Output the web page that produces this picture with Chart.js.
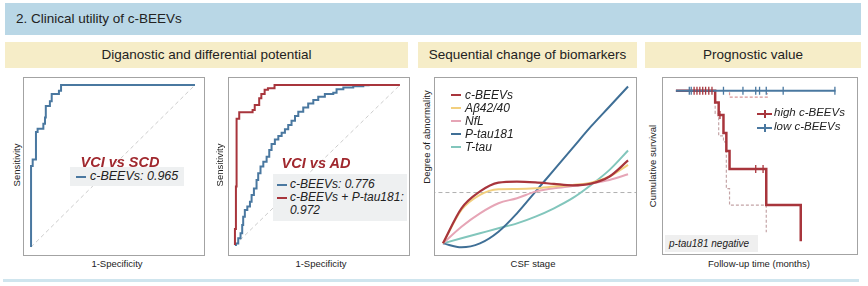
<!DOCTYPE html>
<html>
<head>
<meta charset="utf-8">
<script src="https://cdn.jsdelivr.net/npm/chart.js@4.4.1/dist/chart.umd.min.js"></script>
<style>
body { margin: 0; width: 868px; height: 286px; background: #fff; position: relative; overflow: hidden;
       font-family: Arial, "Liberation Sans", sans-serif; color: #222; }
.abs { position: absolute; }
.topbar { left: 5px; top: 3px; width: 845px; height: 32px; padding-left: 11px; line-height: 32px;
          background: #b9d7e6; font-size: 13.5px; }
.sec { top: 42px; height: 26px; line-height: 26px; background: #f6edc8; font-size: 13.5px; text-align: center; }
.box { border: 1px solid #a3a3a3; box-sizing: border-box; }
.box canvas { position: absolute; left: 0; top: 0; }
.vt { position: absolute; transform: translate(-50%, -50%) rotate(-90deg); white-space: nowrap; font-size: 9.5px; }
.ct { position: absolute; transform: translate(-50%, -50%); white-space: nowrap; font-size: 9.5px; }
.lg { position: absolute; background: #eef0f1; }
.row { position: absolute; white-space: nowrap; font-style: italic; }
.sw { position: absolute; height: 2px; }
.vs { position: absolute; transform: translate(-50%, -50%); white-space: nowrap; font-weight: bold;
      font-style: italic; font-size: 14.5px; color: #a0282e; }
</style>
</head>
<body>

<div class="abs topbar">2. Clinical utility of c-BEEVs</div>
<div class="abs sec" style="left:5px;width:403px">Diganostic and differential potential</div>
<div class="abs sec" style="left:418px;width:219px">Sequential change of biomarkers</div>
<div class="abs sec" style="left:645px;width:216px">Prognostic value</div>
<div class="abs" style="left:3px;top:279px;width:856px;height:3px;background:#cfe5ee"></div>

<!-- panel 1 -->
<div class="abs box" style="left:23px;top:77px;width:182px;height:179px"><canvas id="roc-scd" width="180" height="177"></canvas></div>
<div class="vt" style="left:16px;top:165px">Sensitivity</div>
<div class="ct" style="left:117px;top:263px">1-Specificity</div>
<div class="lg" style="left:70px;top:167px;width:114px;height:19px">
  <div class="sw" style="left:6px;top:9px;width:10px;background:#4a78a0"></div>
  <div class="row" style="left:20px;top:2px;font-size:12.5px">c-BEEVs: 0.965</div>
</div>
<div class="vs" style="left:120px;top:162px">VCI vs SCD</div>

<!-- panel 2 -->
<div class="abs box" style="left:228px;top:77px;width:182px;height:179px"><canvas id="roc-ad" width="180" height="177"></canvas></div>
<div class="vt" style="left:219px;top:165px">Sensitivity</div>
<div class="ct" style="left:321px;top:263px">1-Specificity</div>
<div class="lg" style="left:273px;top:174px;width:134px;height:47px">
  <div class="sw" style="left:4px;top:10px;width:10px;background:#4a78a0"></div>
  <div class="row" style="left:17px;top:3px;font-size:12px">c-BEEVs: 0.776</div>
  <div class="sw" style="left:4px;top:23px;width:10px;background:#a8353c"></div>
  <div class="row" style="left:17px;top:16px;font-size:12px">c-BEEVs + P-tau181:</div>
  <div class="row" style="left:17px;top:29px;font-size:12px">0.972</div>
</div>
<div class="vs" style="left:316px;top:163px">VCI vs AD</div>

<!-- panel 3 -->
<div class="abs box" style="left:434px;top:77px;width:203px;height:179px"><canvas id="csf" width="201" height="177"></canvas></div>
<div class="vt" style="left:426px;top:137px">Degree of abnormality</div>
<div class="ct" style="left:533px;top:263px">CSF stage</div>
<div id="csf-legend"></div>

<!-- panel 4 -->
<div class="abs box" style="left:662px;top:77px;width:196px;height:178px"><canvas id="km" width="194" height="176"></canvas></div>
<div class="vt" style="left:652px;top:166px">Cumulative survival</div>
<div class="ct" style="left:759px;top:263px">Follow-up time (months)</div>
<div class="abs" style="left:757px;top:113px;width:15px;height:2px;background:#a8353c"></div>
<div class="abs" style="left:764px;top:110px;width:1.5px;height:8px;background:#a8353c"></div>
<div class="row" style="left:774px;top:106px;font-size:11.5px">high c-BEEVs</div>
<div class="abs" style="left:757px;top:127px;width:15px;height:2px;background:#4a78a0"></div>
<div class="abs" style="left:764px;top:124px;width:1.5px;height:8px;background:#4a78a0"></div>
<div class="row" style="left:774px;top:120px;font-size:11.5px">low c-BEEVs</div>
<div class="lg" style="left:665px;top:235px;width:93px;height:17px;background:#efefef">
  <div class="row" style="left:4px;top:3px;font-size:10px">p-tau181 negative</div>
</div>

<script>
// ROC: VCI vs SCD
const scdFpr = [0, 0, 0.01, 0.03, 0.04, 0.06, 0.075, 0.085, 0.09, 0.115, 0.126, 0.16, 0.17, 0.183, 1.0];
const scdTpr = [0, 0.50, 0.54, 0.71, 0.73, 0.73, 0.76, 0.80, 0.87, 0.90, 0.945, 0.945, 0.965, 1.0, 1.0];

// ROC: VCI vs AD, c-BEEVs
const adFprBeev = [0, 0.006, 0.02, 0.034, 0.044, 0.05, 0.06, 0.075, 0.091, 0.101, 0.115, 0.131, 0.141, 0.155,
  0.172, 0.192, 0.208, 0.222, 0.242, 0.263, 0.283, 0.303, 0.323, 0.343, 0.364, 0.384, 0.414, 0.444, 0.475,
  0.505, 0.545, 0.596, 0.616, 0.657, 0.717, 0.778, 0.81];
const adTprBeev = [0, 0.010, 0.042, 0.073, 0.125, 0.177, 0.219, 0.24, 0.27, 0.313, 0.354, 0.406, 0.448, 0.49,
  0.52, 0.552, 0.594, 0.631, 0.66, 0.681, 0.702, 0.723, 0.75, 0.777, 0.806, 0.833, 0.86, 0.885, 0.906,
  0.927, 0.944, 0.952, 0.973, 0.985, 0.992, 0.998, 1.0];

// ROC: VCI vs AD, c-BEEVs + P-tau181
const adFprCombo = [0, 0, 0.006, 0.01, 0.026, 0.107, 0.12, 0.147, 0.16, 0.18, 0.20, 0.24, 1.0];
const adTprCombo = [0, 0.10, 0.365, 0.79, 0.83, 0.844, 0.875, 0.917, 0.944, 0.97, 0.98, 1.0, 1.0];

// Sekvence biomarkerů podle CSF stadia
const csfStage = [0, 1, 2, 3, 4, 5, 6, 7, 8, 9, 10];
const cBeevs  = [0, 2.23, 3.30, 3.86, 3.93, 3.88, 3.78, 3.69, 3.80, 4.25, 5.27];
const abeta   = [0, 2.12, 3.08, 3.44, 3.46, 3.50, 3.61, 3.71, 3.86, 4.25, 4.99];
const nfl     = [0, 1.06, 1.91, 2.55, 2.87, 3.29, 3.50, 3.65, 3.82, 4.03, 4.39];
const ptau    = [0, -0.25, 0.0, 0.74, 1.91, 3.29, 4.67, 6.05, 7.43, 8.70, 9.97];
const ttau    = [0, 0.32, 0.64, 0.96, 1.27, 1.70, 2.23, 2.87, 3.71, 4.67, 5.90];
const abnormalCutoff = 3.23;

// Kaplan-Meier
const highTime = [0, 12.3, 13.4, 14.9, 15.8, 16.8, 28.3, 39.1];
const highSurv = [1, 0.923, 0.84, 0.72, 0.60, 0.48, 0.24, 0];
const lowTime = [0, 50];
const lowSurv = [1, 1];
const highCensorTime = [5.7, 6.6, 7.5, 8.4, 9.3, 10.3, 11.3, 13.8, 25.0, 27.3];
const highCensorSurv = [1, 1, 1, 1, 1, 1, 1, 0.84, 0.48, 0.48];
const lowCensorTime = [4.2, 4.8, 14.9, 21.0, 25.0, 26.2, 28.3, 33.6, 49.8];
const ciUpperTime = [16.8, 16.8, 28.6, 28.6];
const ciUpperSurv = [0.99, 0.958, 0.958, 0.985];
const ciLowerTime = [12.3, 12.3, 13.4, 14.9, 15.8, 16.8, 28.3];
const ciLowerSurv = [1.0, 0.85, 0.70, 0.66, 0.35, 0.24, 0.06];

const RED = '#a8353c';
const BLUE = '#4a78a0';

function xy(xs, ys) {
    return xs.map((x, i) => ({ x: x, y: ys[i] }));
}

function baseOptions(xMin, xMax, yMin, yMax) {
    return {
        responsive: false,
        animation: false,
        events: [],
        layout: { padding: 0 },
        scales: {
            x: { type: 'linear', display: false, min: xMin, max: xMax },
            y: { type: 'linear', display: false, min: yMin, max: yMax }
        },
        plugins: { legend: { display: false }, tooltip: { enabled: false } },
        elements: { point: { radius: 0 }, line: { borderCapStyle: 'butt' } }
    };
}

function diagonal() {
    return { data: xy([0, 1], [0, 1]), borderColor: '#cccccc', borderWidth: 1, borderDash: [4, 3] };
}

// Panel 1
new Chart(document.getElementById('roc-scd'), {
    type: 'line',
    data: {
        datasets: [
            { data: xy(scdFpr, scdTpr), borderColor: BLUE, borderWidth: 2, stepped: 'before' },
            diagonal()
        ]
    },
    options: baseOptions(-0.043, 1.055, -0.049, 1.043)
});

// Panel 2
new Chart(document.getElementById('roc-ad'), {
    type: 'line',
    data: {
        datasets: [
            { data: xy(adFprCombo, adTprCombo), borderColor: RED, borderWidth: 2, stepped: 'before' },
            { data: xy(adFprBeev, adTprBeev), borderColor: BLUE, borderWidth: 2, stepped: 'before' },
            diagonal()
        ]
    },
    options: baseOptions(-0.036, 1.055, -0.0625, 1.044)
});

// Panel 3
const csfSeries = [
    { label: 'c-BEEVs', values: cBeevs, color: '#a8353c', width: 2.2 },
    { label: 'Aβ42/40', values: abeta, color: '#f2cf7e', width: 2 },
    { label: 'NfL', values: nfl, color: '#e6a5b6', width: 2 },
    { label: 'P-tau181', values: ptau, color: '#3f6f96', width: 2 },
    { label: 'T-tau', values: ttau, color: '#82c6bc', width: 2 }
];
const csfDatasets = csfSeries.map(s => ({
    label: s.label,
    data: xy(csfStage, s.values),
    borderColor: s.color,
    borderWidth: s.width,
    cubicInterpolationMode: 'monotone'
}));
csfDatasets.push({
    data: xy([-1, 11], [abnormalCutoff, abnormalCutoff]),
    borderColor: '#b0b0b0', borderWidth: 1, borderDash: [4, 3]
});
new Chart(document.getElementById('csf'), {
    type: 'line',
    data: { datasets: csfDatasets },
    options: baseOptions(-0.43, 10.43, -0.74, 10.51)
});

// legenda panelu 3
const legendEl = document.getElementById('csf-legend');
csfSeries.forEach((s, i) => {
    const top = 95 + i * 13.1;
    legendEl.insertAdjacentHTML('beforeend',
        '<div class="abs" style="left:451px;top:' + (top - 1) + 'px;width:10px;height:2px;background:' + s.color + '"></div>' +
        '<div class="row" style="left:465px;top:' + (top - 7.5) + 'px;font-size:12px">' + s.label + '</div>');
});

// Panel 4
new Chart(document.getElementById('km'), {
    type: 'line',
    data: {
        datasets: [
            { data: xy(lowCensorTime, lowCensorTime.map(() => 1)), showLine: false, pointStyle: 'line',
              pointRotation: 90, pointRadius: 4, pointBorderWidth: 1.3, pointBorderColor: BLUE },
            { data: xy(highCensorTime, highCensorSurv), showLine: false, pointStyle: 'line',
              pointRotation: 90, pointRadius: 4, pointBorderWidth: 1.3, pointBorderColor: RED },
            { data: xy(lowTime, lowSurv), borderColor: BLUE, borderWidth: 2 },
            { data: xy(highTime, highSurv), borderColor: RED, borderWidth: 2.5, stepped: 'before' },
            { data: xy(ciUpperTime, ciUpperSurv), borderColor: '#d99597', borderWidth: 1.2,
              borderDash: [3, 2], stepped: 'before' },
            { data: xy(ciLowerTime, ciLowerSurv), borderColor: '#c4a4a6', borderWidth: 1.2,
              borderDash: [3, 2], stepped: 'before' }
        ]
    },
    options: baseOptions(-2.38, 55.06, -0.05, 1.05)
});
</script>
</body>
</html>
